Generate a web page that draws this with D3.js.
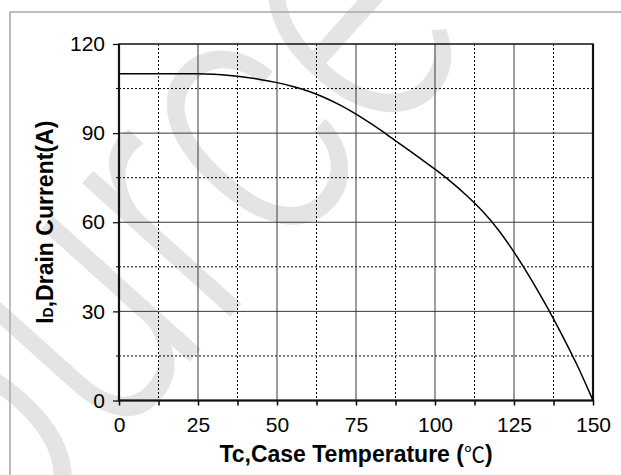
<!DOCTYPE html>
<html lang="en">
<head>
    <meta charset="UTF-8">
    <title>Drain Current vs Case Temperature</title>
    <script src="https://d3js.org/d3.v7.min.js"></script>
    <style>
        html, body { margin: 0; padding: 0; background: #fff; }
        svg { display: block; }
        .tick text { font-family: "Liberation Sans", Arial, sans-serif; font-size: 21px; fill: #000; }
    </style>
</head>
<body>
    <svg id="chart"></svg>
    <script>
        // Values (every 5 degC)
        const caseTemp = [0, 5, 10, 15, 20, 25, 30, 35, 40, 45, 50, 55, 60, 65, 70, 75, 80, 85, 90, 95, 100, 105, 110, 115, 120, 125, 130, 135, 140, 145, 150];
        const drainCurrent = [110, 110, 110, 110, 110, 110, 109.8, 109.4, 108.8, 108.0, 107.0, 105.7, 104.1, 102.0, 99.4, 96.4, 93.0, 89.35, 85.55, 81.75, 77.85, 73.65, 69.0, 63.75, 57.45, 49.95, 41.55, 32.35, 22.45, 11.85, 0];
        const xTicks = [0, 25, 50, 75, 100, 125, 150];
        const yTicks = [0, 30, 60, 90, 120];
        const xMinor = [12.5, 37.5, 62.5, 87.5, 112.5, 137.5];
        const yMinor = [15, 45, 75, 105];

        const width = 621, height = 475;
        const plotL = 119, plotR = 593, plotT = 44, plotB = 400.5;

        const svg = d3.select('#chart')
            .attr('width', width)
            .attr('height', height);

        const x = d3.scaleLinear().domain([0, 150]).range([plotL, plotR]);
        const y = d3.scaleLinear().domain([0, 120]).range([plotB, plotT]);

        // faint watermark behind everything
        svg.append('text')
            .attr('transform', 'translate(-115,700) rotate(-48) scale(1,1.3)')
            .attr('font-family', 'Roboto, Liberation Sans, sans-serif')
            .attr('font-weight', 300)
            .attr('font-size', 290)
            .attr('fill', '#e4e4e4')
            .text('Source');

        // outer gray border (runs off the right/bottom of the picture)
        svg.append('rect')
            .attr('x', 10).attr('y', 12)
            .attr('width', 800).attr('height', 600)
            .attr('fill', 'none')
            .attr('stroke', '#a8a8a8')
            .attr('stroke-width', 1.5);

        // minor dotted grid
        const grid = svg.append('g');
        grid.selectAll('.vminor').data(xMinor).join('line')
            .attr('x1', d => x(d)).attr('x2', d => x(d))
            .attr('y1', plotT).attr('y2', plotB)
            .attr('stroke', '#000').attr('stroke-width', 1)
            .attr('stroke-dasharray', '2,2');
        grid.selectAll('.hminor').data(yMinor).join('line')
            .attr('x1', plotL).attr('x2', plotR)
            .attr('y1', d => y(d)).attr('y2', d => y(d))
            .attr('stroke', '#000').attr('stroke-width', 1)
            .attr('stroke-dasharray', '2,2');

        // major solid grid
        grid.selectAll('.vmajor').data(xTicks.slice(1, -1)).join('line')
            .attr('x1', d => x(d)).attr('x2', d => x(d))
            .attr('y1', plotT).attr('y2', plotB)
            .attr('stroke', '#3a3a3a').attr('stroke-width', 1);
        grid.selectAll('.hmajor').data(yTicks.slice(1, -1)).join('line')
            .attr('x1', plotL).attr('x2', plotR)
            .attr('y1', d => y(d)).attr('y2', d => y(d))
            .attr('stroke', '#3a3a3a').attr('stroke-width', 1);

        // axes
        const xAxis = svg.append('g')
            .attr('transform', `translate(0,${plotB})`)
            .call(d3.axisBottom(x).tickValues(xTicks.concat(xMinor)).tickSize(5).tickPadding(12)
                .tickFormat(d => xTicks.includes(d) ? d : ''));
        xAxis.select('.domain').remove();
        xAxis.selectAll('line').attr('stroke', '#000').attr('stroke-width', 1.5);

        const yAxis = svg.append('g')
            .attr('transform', `translate(${plotL},0)`)
            .call(d3.axisLeft(y).tickValues(yTicks).tickSize(6).tickPadding(8));
        yAxis.select('.domain').remove();
        yAxis.selectAll('line').attr('stroke', '#000').attr('stroke-width', 1.2);

        svg.append('g').selectAll('line').data(yMinor).join('line')
            .attr('x1', plotL - 3).attr('x2', plotL)
            .attr('y1', d => y(d)).attr('y2', d => y(d))
            .attr('stroke', '#000').attr('stroke-width', 1);

        // plot frame
        svg.append('rect')
            .attr('x', plotL).attr('y', plotT)
            .attr('width', plotR - plotL).attr('height', plotB - plotT)
            .attr('fill', 'none')
            .attr('stroke', '#111')
            .attr('stroke-width', 1.5);
        svg.append('path')
            .attr('d', `M${plotL},${plotT}V${plotB}H${plotR}V${plotT}`)
            .attr('fill', 'none')
            .attr('stroke', '#111')
            .attr('stroke-width', 2.2);

        // derating curve
        const line = d3.line()
            .x((d, i) => x(caseTemp[i]))
            .y(d => y(d))
            .curve(d3.curveMonotoneX);
        svg.append('path')
            .datum(drainCurrent)
            .attr('d', line)
            .attr('fill', 'none')
            .attr('stroke', '#000')
            .attr('stroke-width', 1.5);

        // axis titles
        const xTitle = svg.append('text')
            .attr('x', (plotL + plotR) / 2)
            .attr('y', 461.5)
            .attr('text-anchor', 'middle')
            .attr('font-family', 'Liberation Sans, Arial, sans-serif')
            .attr('font-weight', 'bold')
            .attr('font-size', 23);
        xTitle.append('tspan').text('Tc,Case Temperature (');
        xTitle.append('tspan')
            .attr('font-family', 'Noto Sans CJK SC')
            .attr('font-weight', 'normal')
            .attr('font-size', 21)
            .text('℃');
        xTitle.append('tspan').text(')');

        const yTitle = svg.append('text')
            .attr('transform', `translate(53,${(plotT + plotB) / 2}) rotate(-90)`)
            .attr('text-anchor', 'middle')
            .attr('font-family', 'Liberation Sans, Arial, sans-serif')
            .attr('font-weight', 'bold')
            .attr('font-size', 23);
        yTitle.append('tspan').text('I');
        yTitle.append('tspan').attr('font-size', 14).text('D');
        yTitle.append('tspan').text(',Drain Current(A)');
    </script>
</body>
</html>
